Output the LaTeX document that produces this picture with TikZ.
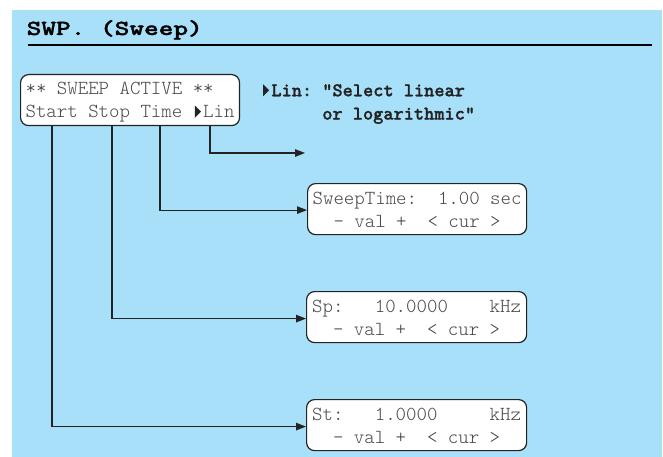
\documentclass[tikz,border=0pt]{standalone}
\usepackage{fontspec}
\newfontfamily\boldmono[FakeBold=1.2]{lmmonolt10-bold.otf}
\usetikzlibrary{arrows.meta}
\definecolor{bgblue}{RGB}{168,223,249}
\definecolor{ink}{RGB}{35,35,35}
\definecolor{lcdtext}{RGB}{72,72,72}
\newsavebox\tribox
\sbox\tribox{\tikz\fill[ink] (0,0)--(0,12pt)--(6pt,6pt)--cycle;}
\newcommand\topstrut{\rule{0pt}{16.5pt}}
\newcommand\botstrut{\rule[-3.5pt]{0pt}{0pt}}
\tikzset{
  lcd/.style={draw=ink, line width=1.2pt, rounded corners=8pt, fill=white,
    text=lcdtext, align=left, inner xsep=5pt, inner ysep=0pt,
    minimum height=51pt, anchor=north west,
    font=\ttfamily\fontseries{l}\frenchspacing\fontsize{19.9}{23}\selectfont},
  conn/.style={draw=ink, line width=1.2pt},
  arr/.style={conn, -{Triangle[length=10pt,width=7.5pt]}},
}
\begin{document}
\begin{tikzpicture}[x=1pt,y=-1pt]
\useasboundingbox (0,0) rectangle (663,457);
\fill[white] (0,0) rectangle (663,457);
\fill[bgblue] (12,10) rectangle (662,457);
\node[anchor=base west, inner sep=0pt, text=black,
  font=\boldmono\frenchspacing\fontsize{21.5}{24}\selectfont] (title) at (26.5,35) {\scalebox{1.3}[1]{SWP. (Sweep)}};
\draw[line width=2pt, black] (28,45.5) -- (652,45.5);
\node[lcd] (main) at (20,74) {\topstrut**~SWEEP~ACTIVE~**\\Start~Stop~Time~\makebox[10.45pt][c]{\usebox\tribox}Lin\botstrut};
\node[anchor=north west, inner sep=0pt, text=ink, align=left,
  font=\boldmono\frenchspacing\fontsize{19.4}{23.3}\selectfont] (note) at (261,84)
  {\makebox[10.2pt][l]{\hspace{2pt}\usebox\tribox}Lin:~"Select~linear\\~~~~~~or~logarithmic"};
\node[lcd, minimum width=219pt] (swt) at (307,183) {\topstrut SweepTime:~~1.00~sec\\~~-~val~+~~<~cur~>\botstrut};
\node[lcd, minimum width=220pt] (sp) at (306,291) {\topstrut Sp:~~~10.0000~~~~kHz\\~~-~val~+~~<~cur~>\botstrut};
\node[lcd, minimum width=220pt] (st) at (306,399) {\topstrut St:~~~1.0000~~~~~kHz\\~~-~val~+~~<~cur~>\botstrut};
\coordinate (linend) at (305,153);
\draw[arr] ([xshift=190pt]main.south west) |- (linend);
\draw[arr] ([xshift=140pt]main.south west) |- ([yshift=-1pt]swt.west);
\draw[arr] ([xshift=92pt]main.south west) |- ([yshift=-1.5pt]sp.west);
\draw[arr] ([xshift=32pt]main.south west) |- ([yshift=-1.5pt]st.west);
\end{tikzpicture}
\end{document}
